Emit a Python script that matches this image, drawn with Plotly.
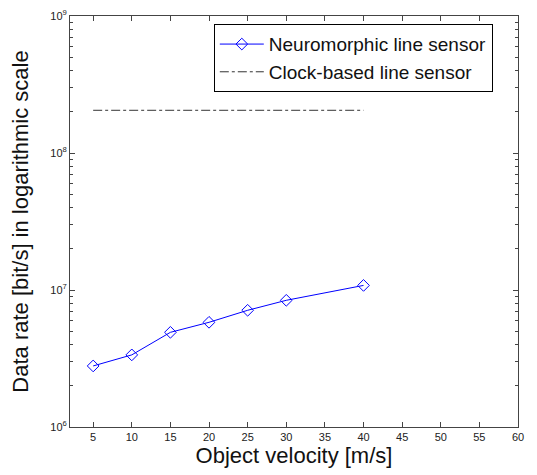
import plotly.graph_objects as go

velocity = [5, 10, 15, 20, 25, 30, 40]
neuromorphic_rate = [2.79e6, 3.36e6, 4.91e6, 5.81e6, 7.11e6, 8.41e6, 1.08e7]
clock_velocity = [5, 40]
clock_rate = [2.05e8, 2.05e8]

x_ticks = list(range(5, 65, 5))
y_major = [1e6, 1e7, 1e8, 1e9]
y_major_text = ["10<sup>6</sup>", "10<sup>7</sup>", "10<sup>8</sup>", "10<sup>9</sup>"]
y_minor = [m * 10 ** e for e in (6, 7, 8) for m in range(2, 10)]

FONT = "Liberation Sans, Arial, sans-serif"

fig = go.Figure()
fig.add_trace(go.Scatter(
    x=velocity, y=neuromorphic_rate, mode="lines+markers",
    name="Neuromorphic line sensor",
    line=dict(color="#0000ff", width=1),
    marker=dict(symbol="diamond-open", size=9, color="#0000ff", line=dict(width=1)),
))
fig.add_trace(go.Scatter(
    x=clock_velocity, y=clock_rate, mode="lines",
    name="Clock-based line sensor",
    line=dict(color="#333333", width=1, dash="dashdot"),
))

axis_common = dict(
    showline=True, linecolor="#444444", linewidth=1, mirror="ticks",
    ticks="inside", ticklen=5, tickcolor="#444444", showgrid=False, zeroline=False,
    automargin=False,
    tickfont=dict(family=FONT, size=11, color="#222222"),
)

fig.update_xaxes(
    range=[2, 60], tickvals=x_ticks,
    title=dict(text="Object velocity [m/s]", standoff=2,
               font=dict(family=FONT, size=22, color="#111111")),
    **axis_common,
)
fig.update_yaxes(
    type="log", range=[6, 9], tickvals=y_major, ticktext=y_major_text,
    minor=dict(tickmode="array", tickvals=y_minor, ticks="inside", ticklen=3, tickcolor="#444444"),
    title=dict(text="Data rate [bit/s] in logarithmic scale", standoff=16,
               font=dict(family=FONT, size=22, color="#111111")),
    **axis_common,
)

fig.update_layout(
    width=529, height=467,
    margin=dict(l=62, r=19, t=8, b=48),
    plot_bgcolor="white", paper_bgcolor="white",
    font=dict(family=FONT),
    legend=dict(
        x=0.321, y=0.98, xanchor="left", yanchor="top",
        bordercolor="#000000", borderwidth=1, bgcolor="white",
        font=dict(size=19, color="#111111"),
        tracegroupgap=0, itemwidth=44,
    ),
    showlegend=True,
)

fig.write_html("out.html")
